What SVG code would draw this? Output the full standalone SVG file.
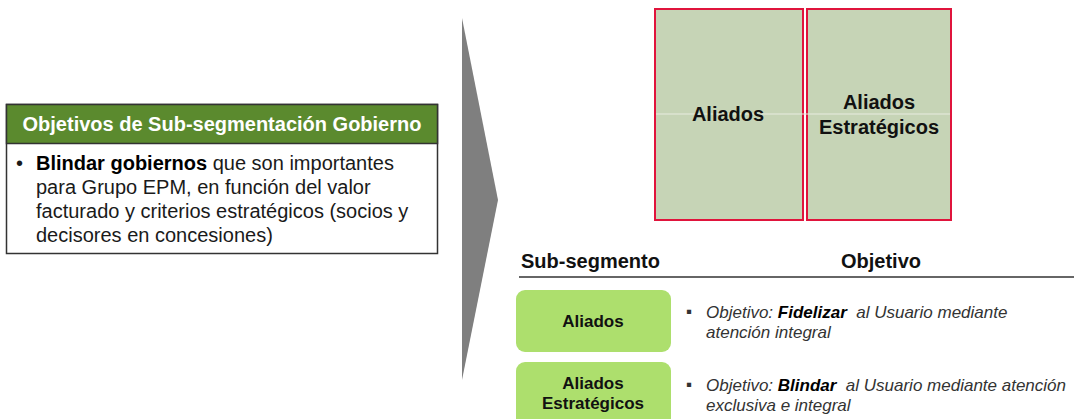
<svg xmlns="http://www.w3.org/2000/svg" width="1074" height="419" viewBox="0 0 1074 419">
<style>
text{font-family:"Liberation Sans",Arial,sans-serif;fill:#000}
.b{font-weight:bold}
.hd{font-weight:bold;font-size:20px;fill:#fff}
.body{font-size:20px;fill:#1a1a1a}
.seg{fill:#c6d4b6;stroke:#e0143c;stroke-width:2}
.segt{font-weight:bold;font-size:20px;text-anchor:middle;fill:#111}
.pill{fill:#addf6d}
.pt{font-weight:bold;font-size:17px;text-anchor:middle;fill:#111}
.it{font-style:italic;font-size:17px;fill:#333}
.th{font-weight:bold;font-size:20px;fill:#111}
</style>
<rect width="1074" height="419" fill="#fff"/>
<g id="objetivos">
<rect x="6.5" y="104.5" width="431" height="149" fill="#fff" stroke="#333" stroke-width="1.5"/>
<rect x="6.5" y="104.5" width="431" height="39" fill="#5b8a2e" stroke="#333" stroke-width="1.5"/>
<text class="hd" x="222" y="131" text-anchor="middle">Objetivos de Sub-segmentación Gobierno</text>
<text class="body" x="16" y="170">•</text>
<text class="body" x="36" y="170"><tspan class="b" fill="#000">Blindar gobiernos</tspan> que son importantes</text>
<text class="body" x="36" y="194">para Grupo EPM, en función del valor</text>
<text class="body" x="36" y="218">facturado y criterios estratégicos (socios y</text>
<text class="body" x="36" y="242">decisores en concesiones)</text>
</g>
<g id="arrow">
<polygon points="462,18 498,200 462,380" fill="#7f7f7f"/>
</g>
<g id="matrix">
<rect class="seg" x="655" y="9" width="148" height="211"/>
<rect class="seg" x="807" y="9" width="144" height="211"/>
<line x1="656" y1="114" x2="950" y2="114" stroke="#e8ece0" stroke-width="1.2"/>
<text class="segt" x="728" y="121">Aliados</text>
<text class="segt" x="879" y="109">Aliados</text>
<text class="segt" x="879" y="134">Estratégicos</text>
</g>
<g id="tabla">
<text class="th" x="521" y="268">Sub-segmento</text>
<text class="th" x="881" y="268" text-anchor="middle">Objetivo</text>
<line x1="519" y1="277" x2="1074" y2="277" stroke="#333" stroke-width="1.5"/>
</g>
<g id="aliados">
<rect class="pill" x="516" y="290" width="155" height="62" rx="9"/>
<text class="pt" x="593" y="327">Aliados</text>
<text class="it" x="686" y="317" font-style="normal" font-size="13">▪</text>
<text class="it" x="706" y="318">Objetivo: <tspan font-weight="bold" fill="#000">Fidelizar</tspan>&#160; al Usuario mediante</text>
<text class="it" x="706" y="338">atención integral</text>
</g>
<g id="aliados-estrategicos">
<rect class="pill" x="516" y="362" width="155" height="70" rx="9"/>
<text class="pt" x="593" y="389">Aliados</text>
<text class="pt" x="593" y="409">Estratégicos</text>
<text class="it" x="686" y="390" font-style="normal" font-size="13">▪</text>
<text class="it" x="706" y="391">Objetivo: <tspan font-weight="bold" fill="#000">Blindar</tspan>&#160; al Usuario mediante atención</text>
<text class="it" x="706" y="411">exclusiva e integral</text>
</g>
</svg>
